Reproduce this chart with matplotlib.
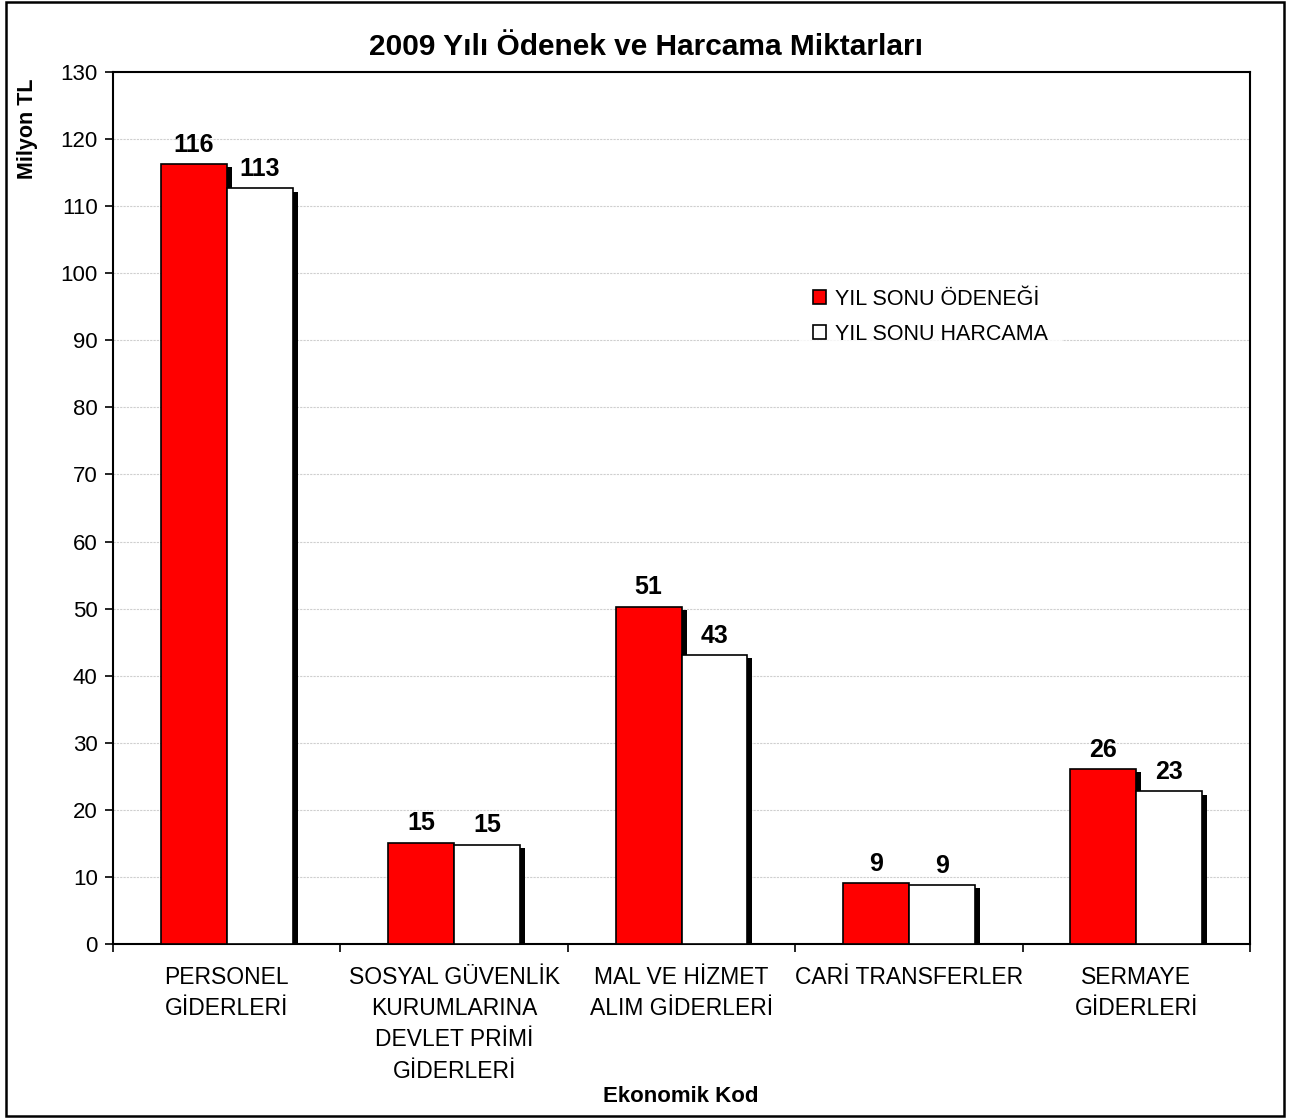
import matplotlib
matplotlib.use("Agg")
import matplotlib.pyplot as plt
from matplotlib.patches import Patch, Rectangle
import numpy as np

categories = ["PERSONEL\nGİDERLERİ",
              "SOSYAL GÜVENLİK\nKURUMLARINA\nDEVLET PRİMİ\nGİDERLERİ",
              "MAL VE HİZMET\nALIM GİDERLERİ",
              "CARİ TRANSFERLER",
              "SERMAYE\nGİDERLERİ"]
odenek = [116.3, 15.1, 50.3, 9.1, 26.1]
harcama = [112.7, 14.8, 43.1, 8.8, 22.8]
odenek_labels = ["116", "15", "51", "9", "26"]
harcama_labels = ["113", "15", "43", "9", "23"]
series_names = ["YIL SONU ÖDENEĞİ", "YIL SONU HARCAMA"]
yticks = list(range(0, 131, 10))

plt.rcParams['font.family'] = ['Liberation Sans', 'DejaVu Sans']

W, H = 1292, 1119
fig = plt.figure(figsize=(W / 100, H / 100), dpi=100)
L, R, T, B = 113, 1250, 72, 944
ax = fig.add_axes([L / W, 1 - B / H, (R - L) / W, (B - T) / H])

x = np.arange(len(categories))
bw = 0.29
off = 0.145
sx = 5 / ((R - L) / 5)
sy = 3.5 / ((B - T) / 130)

# shadows
ax.bar(x - off + sx, np.array(odenek) - sy, width=bw, color="black", zorder=2)
ax.bar(x + off + sx, np.array(harcama) - sy, width=bw, color="black", zorder=2)
b1 = ax.bar(x - off, odenek, width=bw, color="#ff0000", edgecolor="black", linewidth=1.2, zorder=3)
b2 = ax.bar(x + off, harcama, width=bw, color="white", edgecolor="black", linewidth=1.2, zorder=3)

for xi, v, lab in zip(x - off, odenek, odenek_labels):
    ax.text(xi, v + 1.1, lab, ha="center", va="bottom", fontsize=18, fontweight="bold", zorder=5)
for xi, v, lab in zip(x + off, harcama, harcama_labels):
    ax.text(xi, v + 1.1, lab, ha="center", va="bottom", fontsize=18, fontweight="bold", zorder=5)

ax.set_xlim(-0.5, len(categories) - 0.5)
ax.set_ylim(0, 130)
ax.set_yticks(yticks)
ax.tick_params(axis="y", direction="out", length=6, width=1.2, labelsize=16, pad=5)
ax.set_xticks(x)
ax.set_xticklabels(categories, fontsize=16.5, linespacing=1.45, va="top")
ax.tick_params(axis="x", which="major", length=0, pad=16)
ax.set_xticks(np.arange(-0.5, len(categories)), minor=True)
ax.tick_params(axis="x", which="minor", direction="out", length=6, width=1.2)
ax.grid(axis="y", color="#cfcfcf", linestyle=(0, (2, 1)), linewidth=0.8, zorder=0)
ax.set_axisbelow(True)
for s in ax.spines.values():
    s.set_linewidth(1.5)
    s.set_color("black")

handles = [Patch(facecolor="#ff0000", edgecolor="black", linewidth=1.2),
           Patch(facecolor="white", edgecolor="black", linewidth=1.2)]
leg = ax.legend(handles, series_names, loc="upper left",
                bbox_to_anchor=((800 - L) / (R - L), (B - 276) / (B - T)),
                frameon=True, fontsize=15.5, handlelength=0.62, handleheight=0.62,
                handletextpad=0.4, labelspacing=0.65, borderpad=0.6,
                borderaxespad=0, fancybox=False)
leg.get_frame().set_facecolor("white")
leg.get_frame().set_edgecolor("white")
leg.set_zorder(6)

fig.text(646 / W, 1 - 47 / H, "2009 Yılı Ödenek ve Harcama Miktarları",
         ha="center", va="center", fontsize=21.5, fontweight="bold")
fig.text(28 / W, 1 - 129 / H, "Milyon TL", ha="center", va="center",
         rotation=90, fontsize=15.5, fontweight="bold")
fig.text(681 / W, 1 - 1097 / H, "Ekonomik Kod", ha="center", va="center",
         fontsize=16, fontweight="bold")

fig.patches.append(Rectangle((6 / W, 1 - 1116 / H), (1284 - 6) / W, (1116 - 2) / H,
                             transform=fig.transFigure, fill=False,
                             edgecolor="black", linewidth=1.8))

fig.savefig("out.png", dpi=100, facecolor="white")
